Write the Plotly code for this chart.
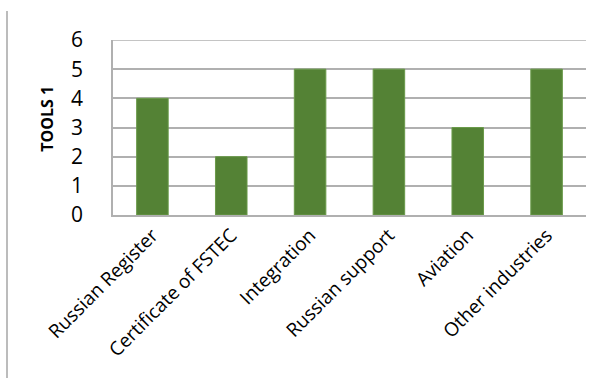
import plotly.graph_objects as go

categories = ["Russian Register", "Certificate of FSTEC", "Integration",
              "Russian support", "Aviation", "Other industries"]
tools_1 = [4, 2, 5, 5, 3, 5]
y_ticks = [0, 1, 2, 3, 4, 5, 6]

W, H = 609, 378
L, R, T, B = 113, 23, 40, 163
FONT = "'Open Sans', sans-serif"
GRID = "#b0b0b0"

fig = go.Figure(
    go.Bar(
        x=categories,
        y=tools_1,
        marker=dict(color="#548235", line=dict(color="#6a9a4a", width=1)),
        width=0.4,
    )
)

fig.update_layout(
    width=W,
    height=H,
    margin=dict(l=L, r=R, t=T, b=B, pad=0),
    paper_bgcolor="white",
    plot_bgcolor="white",
    showlegend=False,
    font=dict(family=FONT, color="#000000"),
    xaxis=dict(
        tickangle=-45,
        tickfont=dict(size=19, family=FONT),
        showgrid=False,
        showline=True,
        linecolor=GRID,
        linewidth=1.5,
        ticks="",
        fixedrange=True,
    ),
    yaxis=dict(
        range=[0, 6],
        tickvals=y_ticks,
        tickfont=dict(size=21, family=FONT),
        showgrid=True,
        gridcolor=GRID,
        gridwidth=1.5,
        showline=True,
        linecolor=GRID,
        linewidth=1.5,
        zeroline=False,
        ticks="",
        ticklabelstandoff=24,
        fixedrange=True,
    ),
    annotations=[
        dict(
            text="<b>TOOLS 1</b>",
            xref="paper",
            yref="paper",
            x=(47 - L) / (W - L - R),
            y=0.55,
            xanchor="center",
            yanchor="middle",
            textangle=-90,
            showarrow=False,
            font=dict(size=16, family=FONT, color="#000000"),
        )
    ],
    shapes=[
        # gridline along the top of the value range
        dict(
            type="line",
            xref="paper",
            yref="y",
            x0=0,
            x1=1,
            y0=y_ticks[-1],
            y1=y_ticks[-1],
            line=dict(color=GRID, width=1.5),
        ),
        # thin frame rule at the far left
        dict(
            type="line",
            xref="paper",
            yref="paper",
            x0=(7 - L) / (W - L - R),
            x1=(7 - L) / (W - L - R),
            y0=(H - B - 11) / (H - T - B),
            y1=-(B) / (H - T - B),
            line=dict(color="#a6a6a6", width=1.5),
        ),
    ],
)

fig.write_html("out.html")
